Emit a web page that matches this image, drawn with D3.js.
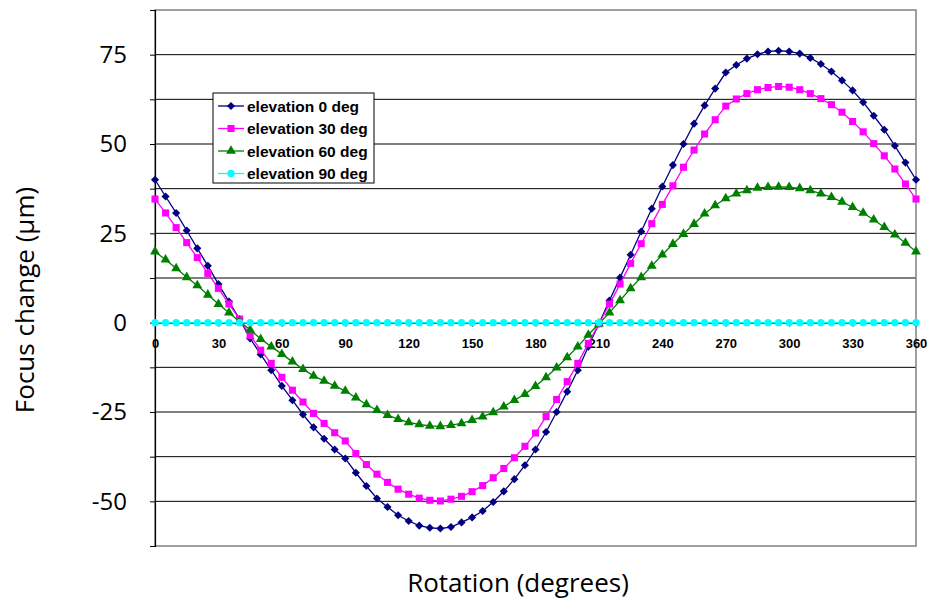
<!DOCTYPE html>
<html>
<head>
<meta charset="utf-8">
<script src="https://cdn.jsdelivr.net/npm/d3@7"></script>
<style>
  html, body { margin: 0; padding: 0; background: #ffffff; }
  svg { display: block; }
</style>
</head>
<body>
<div id="chart"></div>
<script>
// rotation angles (degrees)
var rotation = [0, 5, 10, 15, 20, 25, 30, 35, 40, 45, 50, 55, 60, 65, 70, 75, 80, 85, 90,
    95, 100, 105, 110, 115, 120, 125, 130, 135, 140, 145, 150, 155, 160, 165, 170, 175, 180,
    185, 190, 195, 200, 205, 210, 215, 220, 225, 230, 235, 240, 245, 250, 255, 260, 265, 270,
    275, 280, 285, 290, 295, 300, 305, 310, 315, 320, 325, 330, 335, 340, 345, 350, 355, 360];

var elev0 = [40.0, 35.3, 30.7, 25.8, 20.8, 15.9, 10.8, 5.9, 1.0, -4.4, -8.9, -13.3, -17.7,
    -21.7, -25.7, -29.3, -32.5, -35.5, -38.0, -42.0, -45.7, -49.2, -51.6, -53.9, -55.5, -56.8,
    -57.4, -57.6, -57.2, -55.9, -54.5, -52.7, -50.2, -47.2, -43.8, -39.9, -35.5, -30.6, -25.0,
    -19.3, -13.3, -6.7, -0.3, 6.2, 12.6, 19.0, 25.5, 31.9, 38.1, 44.1, 50.0, 55.7, 60.8, 65.5,
    70.0, 72.1, 73.9, 75.1, 75.9, 76.1, 75.9, 75.3, 74.1, 72.4, 70.3, 67.8, 65.0, 61.7, 57.9,
    54.0, 49.5, 44.8, 40.0];

var elev30 = [34.6, 30.7, 26.6, 22.4, 18.2, 13.8, 9.6, 5.2, 1.0, -3.6, -7.7, -11.4, -15.3,
    -18.9, -22.2, -25.4, -28.2, -30.8, -33.1, -36.6, -39.7, -42.4, -44.7, -46.6, -48.0, -49.1,
    -49.7, -49.9, -49.4, -48.6, -47.3, -45.6, -43.4, -40.8, -37.8, -34.6, -30.9, -26.3, -21.5,
    -16.5, -11.4, -5.8, -0.3, 5.2, 10.8, 16.6, 22.1, 27.7, 33.1, 38.3, 43.5, 48.3, 52.8, 56.8,
    60.6, 62.6, 64.1, 65.2, 65.8, 66.1, 65.9, 65.2, 64.1, 62.7, 61.0, 58.9, 56.3, 53.4, 50.1,
    46.7, 43.0, 38.8, 34.6];

var elev60 = [19.9, 17.6, 15.2, 12.7, 10.4, 7.8, 5.2, 2.8, 0.3, -2.0, -4.6, -6.7, -8.8,
    -10.9, -13.0, -14.9, -16.3, -17.7, -19.1, -21.0, -22.9, -24.5, -25.9, -27.0, -27.9, -28.5,
    -28.9, -29.0, -28.7, -28.2, -27.3, -26.3, -25.1, -23.5, -21.7, -20.0, -17.8, -15.3, -12.6,
    -9.7, -6.7, -3.4, -0.3, 2.8, 6.2, 9.6, 12.7, 15.9, 19.0, 22.0, 24.8, 27.6, 30.5, 32.8,
    34.8, 36.1, 37.0, 37.7, 37.9, 38.0, 37.9, 37.6, 37.0, 36.1, 35.1, 33.8, 32.3, 30.7, 28.8,
    26.7, 24.6, 22.3, 19.9];

var elev90 = [0, 0, 0, 0, 0, 0, 0, 0, 0, 0, 0, 0, 0, 0, 0, 0, 0, 0, 0, 0, 0, 0, 0, 0, 0,
    0, 0, 0, 0, 0, 0, 0, 0, 0, 0, 0, 0, 0, 0, 0, 0, 0, 0, 0, 0, 0, 0, 0, 0, 0, 0, 0, 0, 0, 0,
    0, 0, 0, 0, 0, 0, 0, 0, 0, 0, 0, 0, 0, 0, 0, 0, 0, 0];

var seriesNames = ["elevation 0 deg", "elevation 30 deg", "elevation 60 deg", "elevation 90 deg"];
var xTicks = [0, 30, 60, 90, 120, 150, 180, 210, 240, 270, 300, 330, 360];
var yTicks = [-62.5, -50, -37.5, -25, -12.5, 0, 12.5, 25, 37.5, 50, 62.5, 75, 87.5];
var yLabels = [-50, -25, 0, 25, 50, 75];

var width = 928, height = 601;
var plot = { left: 155, right: 916, top: 10, bottom: 546 };

// diamond = square turned 45 degrees, like the spreadsheet marker
var series = [
    { name: seriesNames[0], values: elev0, color: "#000080", marker: d3.symbolSquare, size: 33, rot: 45 },
    { name: seriesNames[1], values: elev30, color: "#ff00ff", marker: d3.symbolSquare, size: 50, rot: 0 },
    { name: seriesNames[2], values: elev60, color: "#008000", marker: d3.symbolTriangle, size: 42, rot: 0 },
    { name: seriesNames[3], values: elev90, color: "#00ffff", marker: d3.symbolCircle, size: 42, rot: 0 }
];

var x = d3.scaleLinear().domain([0, 360]).range([plot.left, plot.right]);
var y = d3.scaleLinear().domain([-62.5, 87.5]).range([plot.bottom, plot.top]);

var svg = d3.select("#chart")
    .append("svg")
    .attr("width", width)
    .attr("height", height);

svg.append("rect")
    .attr("width", width)
    .attr("height", height)
    .attr("fill", "#ffffff");

// horizontal grid lines
svg.append("g")
    .selectAll("line")
    .data(yTicks.filter(v => v !== 87.5 && v !== -62.5))
    .enter().append("line")
    .attr("x1", plot.left)
    .attr("x2", plot.right)
    .attr("y1", d => y(d))
    .attr("y2", d => y(d))
    .attr("stroke", "#000")
    .attr("stroke-width", 1);

// plot area border
svg.append("rect")
    .attr("x", plot.left)
    .attr("y", plot.top)
    .attr("width", plot.right - plot.left)
    .attr("height", plot.bottom - plot.top)
    .attr("fill", "none")
    .attr("stroke", "#808080")
    .attr("stroke-width", 1.5);

// y axis
var yAxis = d3.axisLeft(y)
    .tickValues(yTicks)
    .tickSize(5)
    .tickFormat("");
var gy = svg.append("g")
    .attr("transform", `translate(${plot.left},0)`)
    .call(yAxis);
gy.select(".domain").attr("stroke", "#000").attr("stroke-width", 1.2);
gy.selectAll(".tick line").attr("stroke", "#000");

svg.append("g")
    .selectAll("text")
    .data(yLabels)
    .enter().append("text")
    .attr("x", 127)
    .attr("y", d => y(d))
    .attr("dy", "0.35em")
    .attr("text-anchor", "end")
    .text(d => d)
    .style("font-family", "'Open Sans', sans-serif")
    .style("font-size", "24px")
    .style("fill", "#000");

// x axis through zero
var xAxis = d3.axisBottom(x)
    .tickValues(xTicks)
    .tickSize(4)
    .tickSizeOuter(0)
    .tickPadding(12)
    .tickFormat(d => d);
var gx = svg.append("g")
    .attr("transform", `translate(0,${y(0)})`)
    .call(xAxis);
gx.select(".domain").attr("stroke", "#000");
gx.selectAll(".tick line").attr("stroke", "#000");
gx.selectAll(".tick text")
    .style("font-family", "'Liberation Sans', Arial, sans-serif")
    .style("font-size", "13px")
    .style("font-weight", "bold")
    .style("fill", "#000");

// series
var line = d3.line()
    .x((d, i) => x(rotation[i]))
    .y(d => y(d));

series.forEach(s => {
    var g = svg.append("g");
    g.append("path")
        .datum(s.values)
        .attr("d", line)
        .attr("fill", "none")
        .attr("stroke", s.color)
        .attr("stroke-width", 1.3);

    g.selectAll("path.marker")
        .data(s.values)
        .enter().append("path")
        .attr("class", "marker")
        .attr("transform", (d, i) => `translate(${x(rotation[i])},${y(d)}) rotate(${s.rot})`)
        .attr("d", d3.symbol().type(s.marker).size(s.size))
        .attr("fill", s.color);
});

// legend
var legend = svg.append("g")
    .attr("transform", "translate(213,93)");

legend.append("rect")
    .attr("width", 161)
    .attr("height", 90)
    .attr("fill", "#fff")
    .attr("stroke", "#000")
    .attr("stroke-width", 1);

var item = legend.selectAll("g.item")
    .data(series)
    .enter().append("g")
    .attr("class", "item")
    .attr("transform", (d, i) => `translate(0,${13 + i * 22.5})`);

item.append("line")
    .attr("x1", 5)
    .attr("x2", 31)
    .attr("stroke", d => d.color)
    .attr("stroke-width", 1.3);

item.append("path")
    .attr("transform", d => `translate(18,0) rotate(${d.rot})`)
    .attr("d", d => d3.symbol().type(d.marker).size(d.size)())
    .attr("fill", d => d.color);

item.append("text")
    .attr("x", 34)
    .attr("dy", "0.36em")
    .text(d => d.name)
    .style("font-family", "'Liberation Sans', Arial, sans-serif")
    .style("font-size", "15.5px")
    .style("font-weight", "bold")
    .style("fill", "#000");

// axis titles
svg.append("text")
    .attr("transform", "translate(34,300) rotate(-90)")
    .attr("text-anchor", "middle")
    .text("Focus change (µm)")
    .style("font-family", "'Open Sans', sans-serif")
    .style("font-size", "26px")
    .style("fill", "#000");

svg.append("text")
    .attr("x", 518)
    .attr("y", 592)
    .attr("text-anchor", "middle")
    .text("Rotation (degrees)")
    .style("font-family", "'Open Sans', sans-serif")
    .style("font-size", "26px")
    .style("fill", "#000");
</script>
</body>
</html>
